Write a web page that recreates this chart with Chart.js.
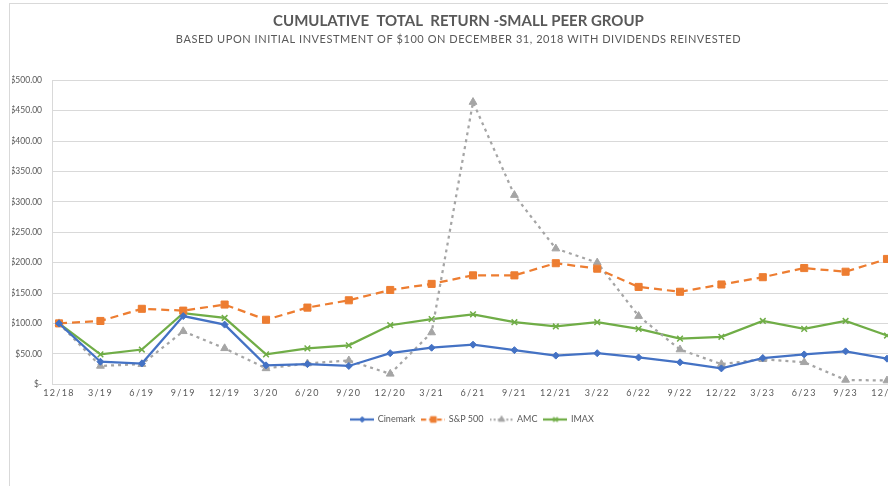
<!DOCTYPE html>
<html>
<head>
<meta charset="utf-8">
<script src="https://cdn.jsdelivr.net/npm/chart.js@4/dist/chart.umd.min.js"></script>
<style>
  html, body { margin: 0; padding: 0; background: #ffffff; overflow: hidden; width: 888px; height: 486px; }
  #frame { position: absolute; left: 9px; top: 3px; width: 1000px; height: 600px; border-left: 1px solid #d9d9d9; border-top: 1px solid #d9d9d9; }
  #wrap { position: absolute; left: 0; top: 0; width: 905px; height: 486px; }
</style>
</head>
<body>
<div id="frame"></div>
<div id="wrap"><canvas id="c" width="905" height="486"></canvas></div>
<script>
const titleText = 'CUMULATIVE  TOTAL  RETURN -SMALL PEER GROUP';
const subtitleText = 'BASED UPON INITIAL INVESTMENT OF $100 ON DECEMBER 31, 2018 WITH DIVIDENDS REINVESTED';

const xLabels = ['12/18','3/19','6/19','9/19','12/19','3/20','6/20','9/20','12/20','3/21','6/21','9/21','12/21','3/22','6/22','9/22','12/22','3/23','6/23','9/23','12/23'];
const yTickValues = [0, 50, 100, 150, 200, 250, 300, 350, 400, 450, 500];
const yTickLabels = ['$-', '$50.00', '$100.00', '$150.00', '$200.00', '$250.00', '$300.00', '$350.00', '$400.00', '$450.00', '$500.00'];

const seriesNames = ['Cinemark', 'S&P 500', 'AMC', 'IMAX'];
const cinemark = [100, 37, 34, 112, 98, 31, 33, 30, 51, 60, 65, 56, 47, 51, 44, 36, 26, 43, 49, 54, 42];
const sp500    = [100, 104, 124, 121, 131, 106, 126, 138, 155, 165, 179, 179, 199, 190, 160, 152, 164, 176, 191, 185, 206];
const amc      = [100, 30, 33, 87, 59, 26, 34, 39, 17, 85, 464, 311, 223, 200, 112, 57, 33, 41, 36, 7, 6];
const imax     = [100, 49, 57, 117, 109, 49, 59, 64, 97, 107, 115, 102, 95, 102, 91, 75, 78, 104, 91, 104, 80];

const FONT = 'Lato, "Open Sans", sans-serif';
const TEXT = '#595959';
const GRID = '#d9d9d9';

const styles = [
  { color: '#4472C4', dash: [], pointStyle: 'rectRot', radius: 3.5, pbw: 1 },
  { color: '#ED7D31', dash: [8, 5], pointStyle: 'rect', radius: 5, pbw: 1 },
  { color: '#A5A5A5', dash: [3, 4], pointStyle: 'triangle', radius: 4.5, pbw: 1 },
  { color: '#70AD47', dash: [], pointStyle: 'crossRot', radius: 4, pbw: 1.5 }
];
const values = [cinemark, sp500, amc, imax];

function toPoints(arr) { return arr.map((v, i) => ({ x: i, y: v })); }

function legendImage(st) {
  const c = document.createElement('canvas');
  c.width = 24; c.height = 12;
  const g = c.getContext('2d');
  g.strokeStyle = st.color; g.fillStyle = st.color; g.lineWidth = 2.25;
  g.setLineDash(st.dash.length ? [st.dash[0] * 0.6, st.dash[1] * 0.6] : []);
  g.beginPath(); g.moveTo(0, 6); g.lineTo(24, 6); g.stroke();
  g.setLineDash([]);
  g.lineWidth = st.pbw;
  Chart.helpers.drawPoint(g, { pointStyle: st.pointStyle, radius: st.radius * 0.8, borderWidth: st.pbw }, 12, 6);
  return c;
}

const datasets = seriesNames.map((name, k) => ({
  label: name,
  data: toPoints(values[k]),
  borderColor: styles[k].color,
  backgroundColor: styles[k].color,
  borderWidth: 2.25,
  borderDash: styles[k].dash,
  pointStyle: styles[k].pointStyle,
  pointRadius: styles[k].radius,
  pointBorderWidth: styles[k].pbw,
  pointBackgroundColor: styles[k].color,
  pointBorderColor: styles[k].color,
  tension: 0,
  fill: false
}));

function wrapSpacing(obj, method, sp) {
  const orig = obj[method];
  obj[method] = function (...args) {
    const ctx = this.ctx;
    const prev = ctx.letterSpacing;
    ctx.letterSpacing = sp;
    const r = orig.apply(this, args);
    ctx.letterSpacing = prev || '0px';
    return r;
  };
}

const spacingPlugin = {
  id: 'spacing',
  afterLayout(chart) {
    if (chart.legend) { chart.legend.left += 14; chart.legend.right += 14; }
  },
  beforeDraw(chart) {
    chart.boxes.forEach(b => {
      if (b.__sp) return;
      if (b.options && b.options.text === subtitleText) { wrapSpacing(b, 'draw', '0.55px'); b.__sp = true; }
      else if (b === chart.scales.x) { wrapSpacing(b, 'drawLabels', '1.3px'); b.__sp = true; }
    });
  }
};

new Chart(document.getElementById('c'), {
  type: 'line',
  data: { datasets },
  plugins: [spacingPlugin],
  options: {
    responsive: false,
    animation: false,
    devicePixelRatio: 1,
    layout: { padding: { left: 12, right: 0, top: 0, bottom: 52 } },
    plugins: {
      title: {
        display: true, text: titleText, color: TEXT,
        font: { family: FONT, size: 15, weight: 'bold' },
        padding: { top: 12, bottom: 3 }
      },
      subtitle: {
        display: true, text: subtitleText, color: TEXT,
        font: { family: FONT, size: 11 },
        padding: { top: 0, bottom: 34 }
      },
      legend: {
        position: 'bottom',
        labels: {
          color: TEXT,
          font: { family: FONT, size: 9 },
          usePointStyle: true,
          pointStyleWidth: 22,
          boxHeight: 9,
          padding: 7,
          generateLabels(chart) {
            return chart.data.datasets.map((ds, i) => ({
              text: ds.label,
              fontColor: TEXT,
              pointStyle: legendImage(styles[i]),
              hidden: false,
              datasetIndex: i,
              lineWidth: 0,
              strokeStyle: 'rgba(0,0,0,0)',
              fillStyle: 'rgba(0,0,0,0)'
            }));
          }
        }
      },
      tooltip: { enabled: false }
    },
    scales: {
      x: {
        type: 'linear',
        min: -0.17,
        max: 20.29,
        grid: { display: false, drawTicks: false, tickLength: 0 },
        border: { display: true, color: GRID, width: 1 },
        afterBuildTicks(scale) { scale.ticks = xLabels.map((l, i) => ({ value: i })); },
        afterFit(scale) { scale.height += 7; },
        ticks: {
          autoSkip: false, maxRotation: 0, minRotation: 0,
          color: TEXT, padding: 3,
          font: { family: FONT, size: 9 },
          callback: (v) => xLabels[v]
        }
      },
      y: {
        min: 0, max: 500,
        afterBuildTicks(scale) { scale.ticks = yTickValues.map(v => ({ value: v })); },
        afterFit(scale) { scale.width = 40; },
        grid: { color: GRID, lineWidth: 1, drawTicks: false },
        border: { display: true, color: GRID, width: 1 },
        ticks: {
          color: TEXT, padding: 10,
          font: { family: FONT, size: 8.5 },
          callback: (v) => yTickLabels[yTickValues.indexOf(v)]
        }
      }
    }
  }
});
</script>
</body>
</html>
